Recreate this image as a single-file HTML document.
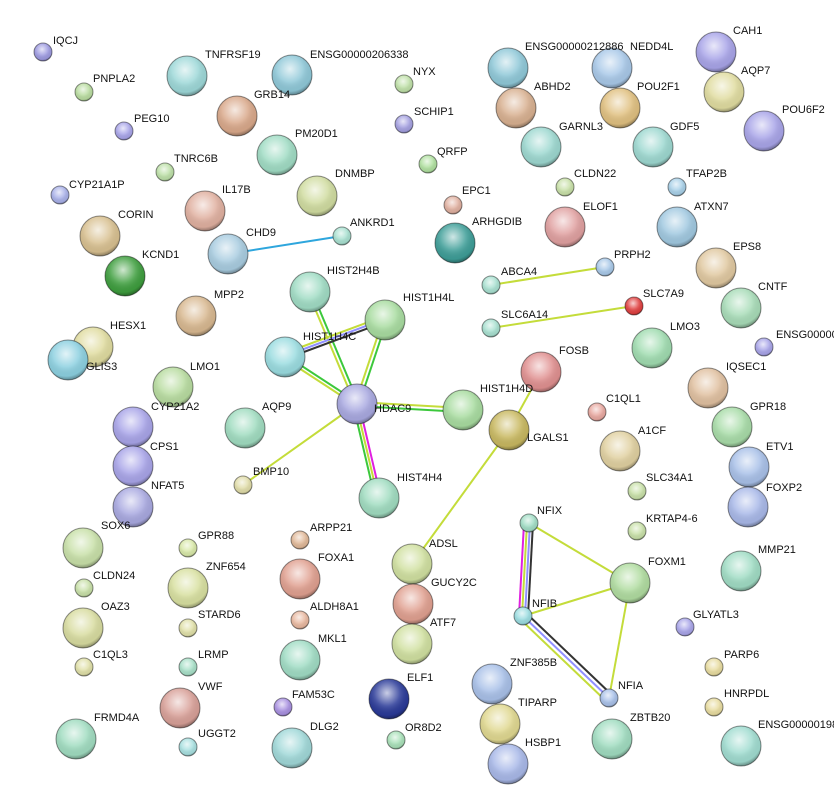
<!DOCTYPE html>
<html><head><meta charset="utf-8"><style>
html,body{margin:0;padding:0;background:#fff;width:834px;height:809px;overflow:hidden}
svg text{font-family:"Liberation Sans",sans-serif;font-size:11px;fill:#111}
</style></head><body>
<svg width="834" height="809" viewBox="0 0 834 809" xmlns="http://www.w3.org/2000/svg">
<defs>
<radialGradient id="hl" cx="0.45" cy="0.35" r="0.65">
<stop offset="0" stop-color="#fff" stop-opacity="0.75"/>
<stop offset="0.5" stop-color="#fff" stop-opacity="0.15"/>
<stop offset="0.85" stop-color="#000" stop-opacity="0.05"/>
<stop offset="1" stop-color="#000" stop-opacity="0.35"/>
</radialGradient>
</defs>
<g fill="none" stroke-width="2">
<line x1="228" y1="254" x2="342" y2="236" stroke="#2ea6dd"/>
<line x1="491" y1="285" x2="605" y2="267" stroke="#c4dc3a"/>
<line x1="491" y1="328" x2="634" y2="306" stroke="#c4dc3a"/>
<!-- HDAC9 cluster -->
<line x1="355" y1="404" x2="308" y2="292" stroke="#c4dc3a"/>
<line x1="359" y1="404" x2="312" y2="292" stroke="#3cc83c"/>
<line x1="355" y1="404" x2="383" y2="320" stroke="#c4dc3a"/>
<line x1="359" y1="404" x2="387" y2="320" stroke="#3cc83c"/>
<line x1="357" y1="402" x2="285" y2="355" stroke="#3cc83c"/>
<line x1="357" y1="406" x2="285" y2="359" stroke="#c4dc3a"/>
<line x1="357" y1="402" x2="463" y2="408" stroke="#c4dc3a"/>
<line x1="357" y1="406" x2="463" y2="412" stroke="#3cc83c"/>
<line x1="353" y1="404" x2="375" y2="498" stroke="#3cc83c"/>
<line x1="356" y1="404" x2="378" y2="498" stroke="#c4dc3a"/>
<line x1="359" y1="404" x2="381" y2="498" stroke="#e020e0"/>
<line x1="357" y1="404" x2="243" y2="485" stroke="#c4dc3a"/>
<line x1="285" y1="353" x2="385" y2="316" stroke="#c4dc3a"/>
<line x1="285" y1="356" x2="385" y2="319" stroke="#9090ff"/>
<line x1="285" y1="359" x2="385" y2="322" stroke="#333"/>
<line x1="509" y1="430" x2="541" y2="372" stroke="#c4dc3a"/>
<line x1="509" y1="430" x2="412" y2="564" stroke="#c4dc3a"/>
<!-- NF cluster -->
<line x1="524" y1="523" x2="519" y2="616" stroke="#e020e0"/>
<line x1="527" y1="523" x2="522" y2="616" stroke="#c4dc3a"/>
<line x1="530" y1="523" x2="525" y2="616" stroke="#9090ff"/>
<line x1="533" y1="523" x2="528" y2="616" stroke="#333"/>
<line x1="529" y1="523" x2="630" y2="583" stroke="#c4dc3a"/>
<line x1="523" y1="616" x2="630" y2="583" stroke="#c4dc3a"/>
<line x1="630" y1="583" x2="609" y2="698" stroke="#c4dc3a"/>
<line x1="520" y1="619" x2="606" y2="701" stroke="#c4dc3a"/>
<line x1="523" y1="616" x2="609" y2="698" stroke="#9090ff"/>
<line x1="526" y1="613" x2="612" y2="695" stroke="#333"/>
</g>
<g stroke="rgba(0,0,0,0.25)" stroke-width="1">
<circle cx="43" cy="52" r="9" fill="#9d9ae0"/><circle cx="43" cy="52" r="9" fill="url(#hl)"/>
<circle cx="84" cy="92" r="9" fill="#b9dca0"/><circle cx="84" cy="92" r="9" fill="url(#hl)"/>
<circle cx="187" cy="76" r="20" fill="#9dd8d8"/><circle cx="187" cy="76" r="20" fill="url(#hl)"/>
<circle cx="292" cy="75" r="20" fill="#8fc8d8"/><circle cx="292" cy="75" r="20" fill="url(#hl)"/>
<circle cx="404" cy="84" r="9" fill="#bfe0a8"/><circle cx="404" cy="84" r="9" fill="url(#hl)"/>
<circle cx="237" cy="116" r="20" fill="#d9a88a"/><circle cx="237" cy="116" r="20" fill="url(#hl)"/>
<circle cx="124" cy="131" r="9" fill="#a8a4e8"/><circle cx="124" cy="131" r="9" fill="url(#hl)"/>
<circle cx="404" cy="124" r="9" fill="#a4a0e0"/><circle cx="404" cy="124" r="9" fill="url(#hl)"/>
<circle cx="277" cy="155" r="20" fill="#a0dcc4"/><circle cx="277" cy="155" r="20" fill="url(#hl)"/>
<circle cx="165" cy="172" r="9" fill="#bde0a8"/><circle cx="165" cy="172" r="9" fill="url(#hl)"/>
<circle cx="428" cy="164" r="9" fill="#b0e0a0"/><circle cx="428" cy="164" r="9" fill="url(#hl)"/>
<circle cx="60" cy="195" r="9" fill="#a8b0e8"/><circle cx="60" cy="195" r="9" fill="url(#hl)"/>
<circle cx="205" cy="211" r="20" fill="#e0b0a0"/><circle cx="205" cy="211" r="20" fill="url(#hl)"/>
<circle cx="317" cy="196" r="20" fill="#d0dca0"/><circle cx="317" cy="196" r="20" fill="url(#hl)"/>
<circle cx="453" cy="205" r="9" fill="#e0b0a0"/><circle cx="453" cy="205" r="9" fill="url(#hl)"/>
<circle cx="455" cy="243" r="20" fill="#3e9e98"/><circle cx="455" cy="243" r="20" fill="url(#hl)"/>
<circle cx="100" cy="236" r="20" fill="#d8c090"/><circle cx="100" cy="236" r="20" fill="url(#hl)"/>
<circle cx="228" cy="254" r="20" fill="#a8cce0"/><circle cx="228" cy="254" r="20" fill="url(#hl)"/>
<circle cx="342" cy="236" r="9" fill="#a8e0d0"/><circle cx="342" cy="236" r="9" fill="url(#hl)"/>
<circle cx="125" cy="276" r="20" fill="#3e9e3e"/><circle cx="125" cy="276" r="20" fill="url(#hl)"/>
<circle cx="310" cy="292" r="20" fill="#a0dcc4"/><circle cx="310" cy="292" r="20" fill="url(#hl)"/>
<circle cx="385" cy="320" r="20" fill="#a8dca0"/><circle cx="385" cy="320" r="20" fill="url(#hl)"/>
<circle cx="196" cy="316" r="20" fill="#d8b890"/><circle cx="196" cy="316" r="20" fill="url(#hl)"/>
<circle cx="93" cy="347" r="20" fill="#e0dca0"/><circle cx="93" cy="347" r="20" fill="url(#hl)"/>
<circle cx="285" cy="357" r="20" fill="#9adce0"/><circle cx="285" cy="357" r="20" fill="url(#hl)"/>
<circle cx="68" cy="360" r="20" fill="#8cd0e0"/><circle cx="68" cy="360" r="20" fill="url(#hl)"/>
<circle cx="173" cy="387" r="20" fill="#b8dca0"/><circle cx="173" cy="387" r="20" fill="url(#hl)"/>
<circle cx="357" cy="404" r="20" fill="#a8a8e0"/><circle cx="357" cy="404" r="20" fill="url(#hl)"/>
<circle cx="463" cy="410" r="20" fill="#a8dca0"/><circle cx="463" cy="410" r="20" fill="url(#hl)"/>
<circle cx="133" cy="427" r="20" fill="#a8a4e8"/><circle cx="133" cy="427" r="20" fill="url(#hl)"/>
<circle cx="245" cy="428" r="20" fill="#a0dcc0"/><circle cx="245" cy="428" r="20" fill="url(#hl)"/>
<circle cx="133" cy="466" r="20" fill="#a8a4e8"/><circle cx="133" cy="466" r="20" fill="url(#hl)"/>
<circle cx="243" cy="485" r="9" fill="#e0dca8"/><circle cx="243" cy="485" r="9" fill="url(#hl)"/>
<circle cx="133" cy="507" r="20" fill="#a8a8e0"/><circle cx="133" cy="507" r="20" fill="url(#hl)"/>
<circle cx="83" cy="548" r="20" fill="#c8e0a8"/><circle cx="83" cy="548" r="20" fill="url(#hl)"/>
<circle cx="379" cy="498" r="20" fill="#a0dcc0"/><circle cx="379" cy="498" r="20" fill="url(#hl)"/>
<circle cx="509" cy="430" r="20" fill="#c8b860"/><circle cx="509" cy="430" r="20" fill="url(#hl)"/>
<circle cx="541" cy="372" r="20" fill="#e09090"/><circle cx="541" cy="372" r="20" fill="url(#hl)"/>
<circle cx="508" cy="68" r="20" fill="#8fc8d8"/><circle cx="508" cy="68" r="20" fill="url(#hl)"/>
<circle cx="612" cy="68" r="20" fill="#a8c8e8"/><circle cx="612" cy="68" r="20" fill="url(#hl)"/>
<circle cx="716" cy="52" r="20" fill="#a8a4e8"/><circle cx="716" cy="52" r="20" fill="url(#hl)"/>
<circle cx="516" cy="108" r="20" fill="#d8b090"/><circle cx="516" cy="108" r="20" fill="url(#hl)"/>
<circle cx="620" cy="108" r="20" fill="#e0c080"/><circle cx="620" cy="108" r="20" fill="url(#hl)"/>
<circle cx="724" cy="92" r="20" fill="#e0dca0"/><circle cx="724" cy="92" r="20" fill="url(#hl)"/>
<circle cx="764" cy="131" r="20" fill="#a8a4e8"/><circle cx="764" cy="131" r="20" fill="url(#hl)"/>
<circle cx="541" cy="147" r="20" fill="#9dd8d0"/><circle cx="541" cy="147" r="20" fill="url(#hl)"/>
<circle cx="653" cy="147" r="20" fill="#9dd8d0"/><circle cx="653" cy="147" r="20" fill="url(#hl)"/>
<circle cx="565" cy="187" r="9" fill="#c8e0a8"/><circle cx="565" cy="187" r="9" fill="url(#hl)"/>
<circle cx="677" cy="187" r="9" fill="#a8d0e8"/><circle cx="677" cy="187" r="9" fill="url(#hl)"/>
<circle cx="565" cy="227" r="20" fill="#e0a0a0"/><circle cx="565" cy="227" r="20" fill="url(#hl)"/>
<circle cx="677" cy="227" r="20" fill="#a0c8e0"/><circle cx="677" cy="227" r="20" fill="url(#hl)"/>
<circle cx="716" cy="268" r="20" fill="#e0c8a0"/><circle cx="716" cy="268" r="20" fill="url(#hl)"/>
<circle cx="605" cy="267" r="9" fill="#a8c8e8"/><circle cx="605" cy="267" r="9" fill="url(#hl)"/>
<circle cx="491" cy="285" r="9" fill="#a8e0d0"/><circle cx="491" cy="285" r="9" fill="url(#hl)"/>
<circle cx="634" cy="306" r="9" fill="#e04040"/><circle cx="634" cy="306" r="9" fill="url(#hl)"/>
<circle cx="741" cy="308" r="20" fill="#a8dcb8"/><circle cx="741" cy="308" r="20" fill="url(#hl)"/>
<circle cx="491" cy="328" r="9" fill="#a8e0d0"/><circle cx="491" cy="328" r="9" fill="url(#hl)"/>
<circle cx="652" cy="348" r="20" fill="#a0dcb0"/><circle cx="652" cy="348" r="20" fill="url(#hl)"/>
<circle cx="764" cy="347" r="9" fill="#a8a4e8"/><circle cx="764" cy="347" r="9" fill="url(#hl)"/>
<circle cx="708" cy="388" r="20" fill="#e0c0a0"/><circle cx="708" cy="388" r="20" fill="url(#hl)"/>
<circle cx="597" cy="412" r="9" fill="#e8a8a0"/><circle cx="597" cy="412" r="9" fill="url(#hl)"/>
<circle cx="732" cy="427" r="20" fill="#a8dca8"/><circle cx="732" cy="427" r="20" fill="url(#hl)"/>
<circle cx="620" cy="451" r="20" fill="#e0d0a0"/><circle cx="620" cy="451" r="20" fill="url(#hl)"/>
<circle cx="749" cy="467" r="20" fill="#a8c0e8"/><circle cx="749" cy="467" r="20" fill="url(#hl)"/>
<circle cx="637" cy="491" r="9" fill="#c8e0a8"/><circle cx="637" cy="491" r="9" fill="url(#hl)"/>
<circle cx="748" cy="507" r="20" fill="#a8b8e8"/><circle cx="748" cy="507" r="20" fill="url(#hl)"/>
<circle cx="529" cy="523" r="9" fill="#a0dcc4"/><circle cx="529" cy="523" r="9" fill="url(#hl)"/>
<circle cx="637" cy="531" r="9" fill="#c8e0a8"/><circle cx="637" cy="531" r="9" fill="url(#hl)"/>
<circle cx="630" cy="583" r="20" fill="#b0dca0"/><circle cx="630" cy="583" r="20" fill="url(#hl)"/>
<circle cx="741" cy="571" r="20" fill="#a0dcc4"/><circle cx="741" cy="571" r="20" fill="url(#hl)"/>
<circle cx="523" cy="616" r="9" fill="#9adce0"/><circle cx="523" cy="616" r="9" fill="url(#hl)"/>
<circle cx="685" cy="627" r="9" fill="#a8a4e8"/><circle cx="685" cy="627" r="9" fill="url(#hl)"/>
<circle cx="609" cy="698" r="9" fill="#a8c0e8"/><circle cx="609" cy="698" r="9" fill="url(#hl)"/>
<circle cx="714" cy="667" r="9" fill="#e8dca0"/><circle cx="714" cy="667" r="9" fill="url(#hl)"/>
<circle cx="492" cy="684" r="20" fill="#a8c0e8"/><circle cx="492" cy="684" r="20" fill="url(#hl)"/>
<circle cx="500" cy="724" r="20" fill="#e0d890"/><circle cx="500" cy="724" r="20" fill="url(#hl)"/>
<circle cx="612" cy="739" r="20" fill="#a0dcc0"/><circle cx="612" cy="739" r="20" fill="url(#hl)"/>
<circle cx="714" cy="707" r="9" fill="#e8dca0"/><circle cx="714" cy="707" r="9" fill="url(#hl)"/>
<circle cx="508" cy="764" r="20" fill="#a8b8e8"/><circle cx="508" cy="764" r="20" fill="url(#hl)"/>
<circle cx="741" cy="746" r="20" fill="#a0dcd0"/><circle cx="741" cy="746" r="20" fill="url(#hl)"/>
<circle cx="188" cy="548" r="9" fill="#d8e8a8"/><circle cx="188" cy="548" r="9" fill="url(#hl)"/>
<circle cx="300" cy="540" r="9" fill="#e0b898"/><circle cx="300" cy="540" r="9" fill="url(#hl)"/>
<circle cx="412" cy="564" r="20" fill="#d0e0a0"/><circle cx="412" cy="564" r="20" fill="url(#hl)"/>
<circle cx="188" cy="588" r="20" fill="#d8e0a0"/><circle cx="188" cy="588" r="20" fill="url(#hl)"/>
<circle cx="300" cy="579" r="20" fill="#e0a090"/><circle cx="300" cy="579" r="20" fill="url(#hl)"/>
<circle cx="84" cy="588" r="9" fill="#c8e0a8"/><circle cx="84" cy="588" r="9" fill="url(#hl)"/>
<circle cx="413" cy="604" r="20" fill="#e0a090"/><circle cx="413" cy="604" r="20" fill="url(#hl)"/>
<circle cx="83" cy="628" r="20" fill="#d8dca0"/><circle cx="83" cy="628" r="20" fill="url(#hl)"/>
<circle cx="188" cy="628" r="9" fill="#e0e0a8"/><circle cx="188" cy="628" r="9" fill="url(#hl)"/>
<circle cx="300" cy="620" r="9" fill="#e8b8a0"/><circle cx="300" cy="620" r="9" fill="url(#hl)"/>
<circle cx="412" cy="644" r="20" fill="#d0e0a0"/><circle cx="412" cy="644" r="20" fill="url(#hl)"/>
<circle cx="300" cy="660" r="20" fill="#a0dcc4"/><circle cx="300" cy="660" r="20" fill="url(#hl)"/>
<circle cx="84" cy="667" r="9" fill="#e0e0a8"/><circle cx="84" cy="667" r="9" fill="url(#hl)"/>
<circle cx="188" cy="667" r="9" fill="#a8e0c8"/><circle cx="188" cy="667" r="9" fill="url(#hl)"/>
<circle cx="180" cy="708" r="20" fill="#d8a098"/><circle cx="180" cy="708" r="20" fill="url(#hl)"/>
<circle cx="283" cy="707" r="9" fill="#a890e0"/><circle cx="283" cy="707" r="9" fill="url(#hl)"/>
<circle cx="389" cy="699" r="20" fill="#2a3a98"/><circle cx="389" cy="699" r="20" fill="url(#hl)"/>
<circle cx="76" cy="739" r="20" fill="#a0dcc0"/><circle cx="76" cy="739" r="20" fill="url(#hl)"/>
<circle cx="188" cy="747" r="9" fill="#a8e0e0"/><circle cx="188" cy="747" r="9" fill="url(#hl)"/>
<circle cx="292" cy="748" r="20" fill="#a0d8d8"/><circle cx="292" cy="748" r="20" fill="url(#hl)"/>
<circle cx="396" cy="740" r="9" fill="#a8e0b8"/><circle cx="396" cy="740" r="9" fill="url(#hl)"/>
</g>
<g>
<text x="53" y="44">IQCJ</text>
<text x="93" y="82">PNPLA2</text>
<text x="205" y="58">TNFRSF19</text>
<text x="310" y="58">ENSG00000206338</text>
<text x="413" y="75">NYX</text>
<text x="254" y="98">GRB14</text>
<text x="134" y="122">PEG10</text>
<text x="414" y="115">SCHIP1</text>
<text x="295" y="137">PM20D1</text>
<text x="174" y="162">TNRC6B</text>
<text x="437" y="155">QRFP</text>
<text x="69" y="188">CYP21A1P</text>
<text x="222" y="193">IL17B</text>
<text x="335" y="177">DNMBP</text>
<text x="462" y="194">EPC1</text>
<text x="472" y="225">ARHGDIB</text>
<text x="118" y="218">CORIN</text>
<text x="246" y="236">CHD9</text>
<text x="350" y="226">ANKRD1</text>
<text x="142" y="258">KCND1</text>
<text x="327" y="274">HIST2H4B</text>
<text x="403" y="301">HIST1H4L</text>
<text x="214" y="298">MPP2</text>
<text x="110" y="329">HESX1</text>
<text x="303" y="340">HIST1H4C</text>
<text x="86" y="370">GLIS3</text>
<text x="190" y="370">LMO1</text>
<text x="374" y="412">HDAC9</text>
<text x="480" y="392">HIST1H4D</text>
<text x="151" y="410">CYP21A2</text>
<text x="262" y="410">AQP9</text>
<text x="150" y="450">CPS1</text>
<text x="253" y="475">BMP10</text>
<text x="151" y="489">NFAT5</text>
<text x="101" y="529">SOX6</text>
<text x="397" y="481">HIST4H4</text>
<text x="527" y="441">LGALS1</text>
<text x="559" y="354">FOSB</text>
<text x="525" y="50">ENSG00000212886</text>
<text x="630" y="50">NEDD4L</text>
<text x="733" y="34">CAH1</text>
<text x="534" y="90">ABHD2</text>
<text x="637" y="90">POU2F1</text>
<text x="741" y="74">AQP7</text>
<text x="782" y="113">POU6F2</text>
<text x="559" y="130">GARNL3</text>
<text x="670" y="130">GDF5</text>
<text x="574" y="177">CLDN22</text>
<text x="686" y="177">TFAP2B</text>
<text x="583" y="210">ELOF1</text>
<text x="694" y="210">ATXN7</text>
<text x="733" y="250">EPS8</text>
<text x="614" y="258">PRPH2</text>
<text x="501" y="275">ABCA4</text>
<text x="643" y="297">SLC7A9</text>
<text x="758" y="290">CNTF</text>
<text x="501" y="318">SLC6A14</text>
<text x="670" y="330">LMO3</text>
<text x="776" y="338">ENSG00000</text>
<text x="726" y="370">IQSEC1</text>
<text x="606" y="402">C1QL1</text>
<text x="750" y="410">GPR18</text>
<text x="638" y="434">A1CF</text>
<text x="766" y="450">ETV1</text>
<text x="646" y="481">SLC34A1</text>
<text x="766" y="491">FOXP2</text>
<text x="537" y="514">NFIX</text>
<text x="646" y="522">KRTAP4-6</text>
<text x="648" y="565">FOXM1</text>
<text x="758" y="553">MMP21</text>
<text x="532" y="607">NFIB</text>
<text x="693" y="618">GLYATL3</text>
<text x="618" y="689">NFIA</text>
<text x="724" y="658">PARP6</text>
<text x="510" y="666">ZNF385B</text>
<text x="518" y="706">TIPARP</text>
<text x="630" y="721">ZBTB20</text>
<text x="724" y="697">HNRPDL</text>
<text x="525" y="746">HSBP1</text>
<text x="758" y="728">ENSG00000198</text>
<text x="198" y="539">GPR88</text>
<text x="310" y="531">ARPP21</text>
<text x="429" y="547">ADSL</text>
<text x="206" y="570">ZNF654</text>
<text x="318" y="561">FOXA1</text>
<text x="93" y="579">CLDN24</text>
<text x="431" y="586">GUCY2C</text>
<text x="101" y="610">OAZ3</text>
<text x="198" y="618">STARD6</text>
<text x="310" y="610">ALDH8A1</text>
<text x="430" y="626">ATF7</text>
<text x="318" y="642">MKL1</text>
<text x="93" y="658">C1QL3</text>
<text x="198" y="658">LRMP</text>
<text x="198" y="690">VWF</text>
<text x="292" y="698">FAM53C</text>
<text x="407" y="681">ELF1</text>
<text x="94" y="721">FRMD4A</text>
<text x="198" y="737">UGGT2</text>
<text x="310" y="730">DLG2</text>
<text x="405" y="731">OR8D2</text>
</g>
</svg>
</body></html>
